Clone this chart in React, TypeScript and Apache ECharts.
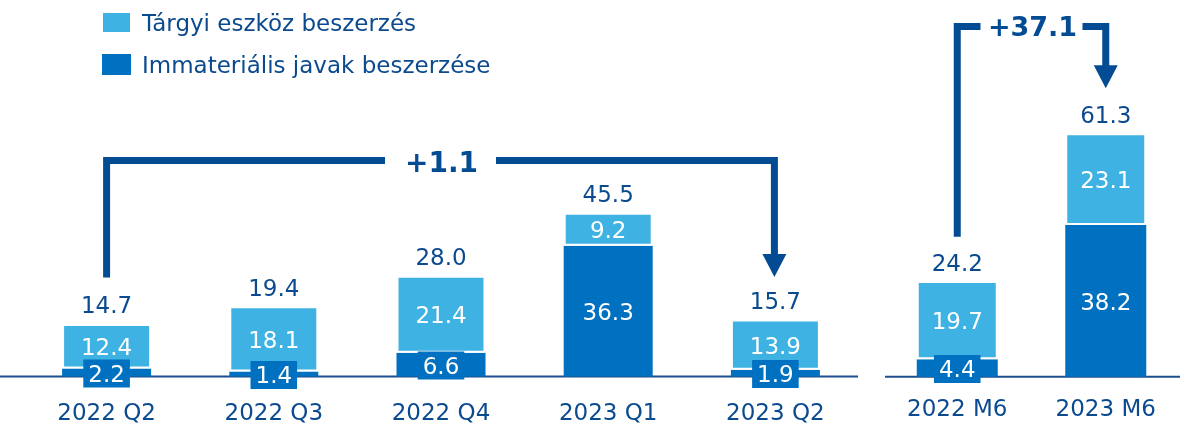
import React, { useEffect, useRef } from 'react';
import * as echarts from 'echarts';

// ---- data ----
const legendNames = ['Tárgyi eszköz beszerzés', 'Immateriális javak beszerzése'];
const quarterCategories = ['2022 Q2', '2022 Q3', '2022 Q4', '2023 Q1', '2023 Q2'];
const quarterTangible = [12.4, 18.1, 21.4, 9.2, 13.9];
const quarterIntangible = [2.2, 1.4, 6.6, 36.3, 1.9];
const quarterTotals = [14.7, 19.4, 28.0, 45.5, 15.7];
const halfCategories = ['2022 M6', '2023 M6'];
const halfTangible = [19.7, 23.1];
const halfIntangible = [4.4, 38.2];
const halfTotals = [24.2, 61.3];
const quarterChangeLabel = '+1.1';
const halfChangeLabel = '+37.1';

// ---- styles ----
const LIGHT = '#3DB2E3';
const DARK = '#0070C0';
const NAVY = '#0B4A8F';
const ARROW = '#034C94';
const FONT = '"DejaVu Sans", Verdana, sans-serif';
const FS = 23;

function panelSeries(grid: number, cats: string[], tangible: number[], intangible: number[], totals: number[], barWidth: number) {
  const stack = 'stack' + grid;
  return [
    {
      name: legendNames[1],
      type: 'bar',
      stack,
      xAxisIndex: grid,
      yAxisIndex: grid,
      barWidth,
      data: intangible,
      itemStyle: { color: DARK },
      label: {
        show: true,
        position: 'inside',
        offset: [0, 1],
        color: '#ffffff',
        fontSize: FS,
        fontFamily: FONT,
        backgroundColor: DARK,
        padding: [3, 5, 2, 5],
        formatter: (p: any) => Number(p.value).toFixed(1),
      },
      z: 2,
    },
    {
      name: legendNames[0],
      type: 'bar',
      stack,
      xAxisIndex: grid,
      yAxisIndex: grid,
      barWidth,
      data: tangible,
      itemStyle: { color: LIGHT, borderColor: '#ffffff', borderWidth: 2 },
      label: {
        show: true,
        position: 'inside',
        offset: [0, 1],
        color: '#ffffff',
        fontSize: FS,
        fontFamily: FONT,
        formatter: (p: any) => Number(p.value).toFixed(1),
      },
      z: 2,
    },
    {
      name: 'total' + grid,
      type: 'bar',
      stack,
      xAxisIndex: grid,
      yAxisIndex: grid,
      barWidth,
      silent: true,
      data: cats.map(() => 0),
      itemStyle: { color: 'rgba(0,0,0,0)' },
      label: {
        show: true,
        position: 'top',
        distance: 7,
        color: NAVY,
        fontSize: FS,
        fontFamily: FONT,
        formatter: (p: any) => totals[p.dataIndex].toFixed(1),
      },
      z: 3,
    },
  ];
}

export default function App() {
  const ref = useRef<HTMLDivElement>(null);
  useEffect(() => {
    if (!ref.current) return;
    const chart = echarts.init(ref.current, null, { renderer: 'svg' });
    const axisLabel = (margin: number) => ({
      fontSize: FS,
      color: NAVY,
      fontFamily: FONT,
      margin,
    });
    chart.setOption({
      animation: false,
      textStyle: { fontFamily: FONT },
      legend: {
        data: legendNames,
        orient: 'vertical',
        left: 101,
        top: 11,
        padding: 0,
        itemWidth: 29,
        itemHeight: 21,
        itemGap: 19,
        icon: 'rect',
        selectedMode: false,
        textStyle: { fontSize: FS, color: NAVY, fontFamily: FONT, padding: [0, 0, 0, 6] },
      },
      grid: [
        { left: 23, right: 329, top: 16.5, bottom: 51.5 },
        { left: 883, right: 8, top: 19.4, bottom: 51.3 },
      ],
      xAxis: [
        {
          type: 'category',
          gridIndex: 0,
          data: quarterCategories,
          axisLine: { show: false },
          axisTick: { show: false },
          axisLabel: axisLabel(24),
        },
        {
          type: 'category',
          gridIndex: 1,
          data: halfCategories,
          axisLine: { show: false },
          axisTick: { show: false },
          axisLabel: axisLabel(20),
        },
      ],
      yAxis: [
        { type: 'value', gridIndex: 0, min: 0, max: 100, show: false, splitLine: { show: false } },
        { type: 'value', gridIndex: 1, min: 0, max: 90, show: false, splitLine: { show: false } },
      ],
      series: [
        ...panelSeries(0, quarterCategories, quarterTangible, quarterIntangible, quarterTotals, 89),
        ...panelSeries(1, halfCategories, halfTangible, halfIntangible, halfTotals, 81),
      ],
    });

    const px = (axis: 'x' | 'y', idx: number, v: any) =>
      chart.convertToPixel(axis === 'x' ? { xAxisIndex: idx } : { yAxisIndex: idx }, v) as number;

    const bracket = (x1: number, yStart: number, x2: number, yTip: number, yH: number, gapHalf: number, label: string, fs: number, textDy: number) => {
      const mid = (x1 + x2) / 2;
      const head = 23;
      return [
        {
          type: 'polyline',
          z: 10,
          shape: { points: [[x1, yStart], [x1, yH], [mid - gapHalf, yH]] },
          style: { stroke: ARROW, lineWidth: 7, lineJoin: 'miter', lineCap: 'butt', fill: null },
        },
        {
          type: 'polyline',
          z: 10,
          shape: { points: [[mid + gapHalf, yH], [x2, yH], [x2, yTip - head + 1]] },
          style: { stroke: ARROW, lineWidth: 7, lineJoin: 'miter', lineCap: 'butt', fill: null },
        },
        {
          type: 'polygon',
          z: 10,
          shape: { points: [[x2 - 12, yTip - head], [x2 + 12, yTip - head], [x2, yTip]] },
          style: { fill: ARROW },
        },
        {
          type: 'text',
          z: 10,
          x: mid + 1,
          y: yH + textDy,
          style: {
            text: label,
            fill: ARROW,
            font: `bold ${fs}px ${FONT}`,
            align: 'center',
            verticalAlign: 'middle',
          },
        },
      ];
    };

    const y0L = px('y', 0, 0);
    const y0R = px('y', 1, 0);
    const qx1 = px('x', 0, quarterCategories[0]);
    const qx2 = px('x', 0, quarterCategories[quarterCategories.length - 1]);
    const hx1 = px('x', 1, halfCategories[0]);
    const hx2 = px('x', 1, halfCategories[halfCategories.length - 1]);

    chart.setOption({
      graphic: [
        {
          type: 'line',
          z: 1,
          shape: { x1: 0, y1: y0L, x2: 858, y2: y0L },
          style: { stroke: '#1D4F8F', lineWidth: 2 },
        },
        {
          type: 'line',
          z: 1,
          shape: { x1: 885, y1: y0R, x2: 1180, y2: y0R },
          style: { stroke: '#1D4F8F', lineWidth: 2 },
        },
        ...bracket(
          qx1,
          px('y', 0, quarterTotals[0]) - 46,
          qx2 - 1,
          px('y', 0, quarterTotals[quarterTotals.length - 1]) - 43,
          160.5,
          55.5,
          quarterChangeLabel,
          28,
          2
        ),
        ...bracket(
          hx1,
          px('y', 1, halfTotals[0]) - 44,
          hx2,
          px('y', 1, halfTotals[halfTotals.length - 1]) - 45,
          26.5,
          51,
          halfChangeLabel,
          27,
          0
        ),
      ],
    });

    return () => chart.dispose();
  }, []);
  return <div ref={ref} style={{ position: 'fixed', left: 0, top: 0, width: 1188, height: 428 }} />;
}
